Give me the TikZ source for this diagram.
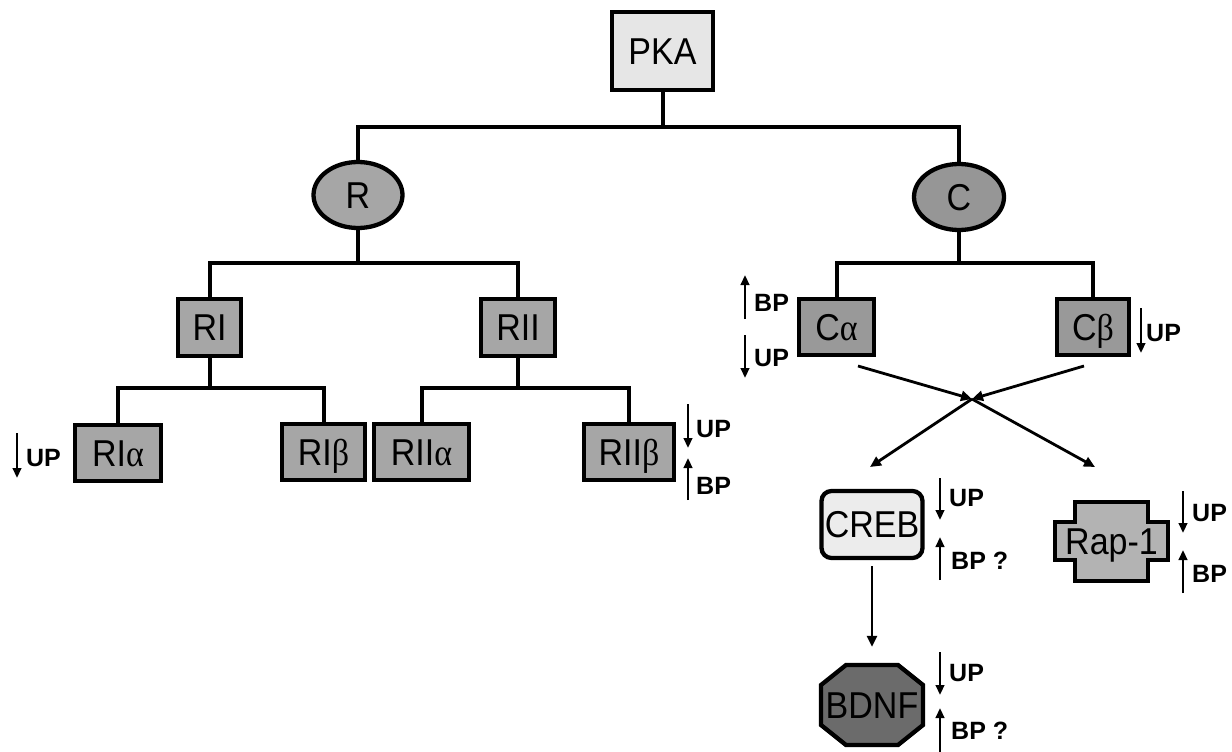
\documentclass[tikz,border=0pt]{standalone}
\usepackage{fontspec}
\usepackage{graphicx}
\setmainfont{Liberation Sans}
\newfontfamily\grk{Liberation Serif}
\newcommand{\tl}[1]{\scalebox{1}[1.1]{#1}}
\usetikzlibrary{arrows.meta,shapes.geometric}
\definecolor{pkafill}{HTML}{E6E6E6}
\definecolor{rfill}{HTML}{A6A6A6}
\definecolor{cfill}{HTML}{969696}
\definecolor{boxfill}{HTML}{A6A6A6}
\definecolor{cboxfill}{HTML}{999999}
\definecolor{crebfill}{HTML}{ECECEC}
\definecolor{bdnffill}{HTML}{6B6B6B}
\definecolor{rapfill}{HTML}{B3B3B3}
\begin{document}
\begin{tikzpicture}[x=1pt,y=-1pt,
  lbl/.style={font=\fontsize{34}{36}\selectfont, text height=26.5pt, text depth=0pt, inner sep=0pt},
  box/.style={lbl, draw, line width=4.3pt, rectangle, fill=boxfill},
  oval/.style={lbl, draw, line width=4.3pt, ellipse},
  tree/.style={line width=4pt},
  arr/.style={line width=2.8pt, -{Triangle[length=11pt,width=10pt]}},
  ann/.style={font=\fontsize{25}{27}\selectfont\bfseries, text height=18pt, text depth=0pt, inner sep=0pt, anchor=west},
  annarr/.style={line width=2.6pt, -{Triangle[length=10pt,width=8.5pt]}},
  shapeline/.style={line width=4.3pt, line join=miter}
]
\useasboundingbox (0,0) rectangle (1232,752);
\fill[white] (0,0) rectangle (1232,752);

% nodes
\node[box, fill=pkafill, minimum width=101pt, minimum height=78pt] (pka) at (662.5,51) {\tl{PKA}};
\node[oval, fill=rfill, minimum width=89pt, minimum height=66pt] (r) at (358,195) {\tl{R}};
\node[oval, fill=cfill, minimum width=90pt, minimum height=66pt] (c) at (959,197) {\tl{C}};
\node[box, minimum width=63pt, minimum height=57pt] (ri) at (209.5,327.5) {\tl{RI}};
\node[box, minimum width=74pt, minimum height=57pt] (rii) at (518,327.5) {\tl{RII}};
\node[box, minimum width=86pt, minimum height=56pt] (ria) at (118,453) {\tl{RI{\grk α}}};
\node[box, minimum width=83pt, minimum height=56pt] (rib) at (323.5,452) {\tl{RI{\grk β}}};
\node[box, minimum width=95pt, minimum height=56pt] (riia) at (421.5,452) {\tl{RII{\grk α}}};
\node[box, minimum width=90pt, minimum height=56pt] (riib) at (629,452) {\tl{RII{\grk β}}};
\node[box, fill=cboxfill, minimum width=75pt, minimum height=56pt] (ca) at (836.5,327) {\tl{C{\grk α}}};
\node[box, fill=cboxfill, minimum width=72pt, minimum height=56pt] (cb) at (1093,327) {\tl{C{\grk β}}};
\node[box, fill=crebfill, rounded corners=10pt, minimum width=101pt, minimum height=67pt] (creb) at (872,524.5) {\tl{CREB}};

% BDNF octagon
\filldraw[shapeline, fill=bdnffill] (846,665) -- (898,665) -- (923,685) -- (923,725) -- (898,745) -- (846,745) -- (821,725) -- (821,685) -- cycle;
\node[lbl, minimum width=102pt, minimum height=80pt] (bdnf) at (872,705) {\tl{BDNF}};

% Rap-1 cross shape
\filldraw[shapeline, fill=rapfill] (1075,502) -- (1148,502) -- (1148,522) -- (1168,522) -- (1168,560) -- (1148,560) -- (1148,581) -- (1075,581) -- (1075,560) -- (1055,560) -- (1055,522) -- (1075,522) -- cycle;
\node[lbl, minimum width=113pt, minimum height=79pt] (rap) at (1111.5,541.5) {\tl{Rap-1}};

% tree connectors
\coordinate (b1) at (662.5,127);
\draw[tree] (pka) -- (b1);
\draw[tree] (r.north) |- (b1) -| (c.north);
\coordinate (b2) at (358,263);
\draw[tree] (r) -- (b2);
\draw[tree] (ri.north) |- (b2) -| (rii.north);
\coordinate (b3) at (209.5,388);
\draw[tree] (ri) -- (b3);
\draw[tree] (ria.north) |- (b3) -| (rib.north);
\coordinate (b4) at (518,388);
\draw[tree] (rii) -- (b4);
\draw[tree] (riia.north) |- (b4) -| (riib.north);
\coordinate (b5) at (959,263);
\draw[tree] (c) -- (b5);
\draw[tree] (ca.north) |- (b5) -| (cb.north);

% crossing arrows
\coordinate (j) at (972,399);
\coordinate (caout) at (858,366);
\coordinate (cbout) at (1084,366);
\coordinate (crebin) at (870,467);
\coordinate (rapin) at (1095,467);
\draw[arr] (caout) -- (j);
\draw[arr] (cbout) -- (j);
\draw[arr] (j) -- (crebin);
\draw[arr] (j) -- (rapin);
\draw[arr, shorten <=6pt, shorten >=18pt] (creb) -- (bdnf);

% annotations
\coordinate (a1s) at (17,433); \coordinate (a1e) at (17,478);
\draw[annarr] (a1s) -- (a1e);
\node[ann] (t1) at (26,457) {UP};

\coordinate (a2s) at (688,404); \coordinate (a2e) at (688,448);
\draw[annarr] (a2s) -- (a2e);
\node[ann] (t2) at (696,428) {UP};
\coordinate (a3s) at (688,500); \coordinate (a3e) at (688,458);
\draw[annarr] (a3s) -- (a3e);
\node[ann] (t3) at (696,485) {BP};

\coordinate (a4s) at (745,319); \coordinate (a4e) at (745,275);
\draw[annarr] (a4s) -- (a4e);
\node[ann] (t4) at (754,302) {BP};
\coordinate (a5s) at (745,335); \coordinate (a5e) at (745,378);
\draw[annarr] (a5s) -- (a5e);
\node[ann] (t5) at (754,357) {UP};

\coordinate (a6s) at (1141,308); \coordinate (a6e) at (1141,353);
\draw[annarr] (a6s) -- (a6e);
\node[ann] (t6) at (1146,332) {UP};

\coordinate (a7s) at (940,478); \coordinate (a7e) at (940,520);
\draw[annarr] (a7s) -- (a7e);
\node[ann] (t7) at (949,497) {UP};
\coordinate (a8s) at (940,580); \coordinate (a8e) at (940,537);
\draw[annarr] (a8s) -- (a8e);
\node[ann] (t8) at (951,560) {BP ?};

\coordinate (a9s) at (1183,491); \coordinate (a9e) at (1183,533);
\draw[annarr] (a9s) -- (a9e);
\node[ann] (t9) at (1192,512) {UP};
\coordinate (a10s) at (1183,593); \coordinate (a10e) at (1183,550);
\draw[annarr] (a10s) -- (a10e);
\node[ann] (t10) at (1192,573) {BP};

\coordinate (a11s) at (940,652); \coordinate (a11e) at (940,695);
\draw[annarr] (a11s) -- (a11e);
\node[ann] (t11) at (949,672) {UP};
\coordinate (a12s) at (940,752); \coordinate (a12e) at (940,708);
\draw[annarr] (a12s) -- (a12e);
\node[ann] (t12) at (951,730) {BP ?};
\end{tikzpicture}
\end{document}
